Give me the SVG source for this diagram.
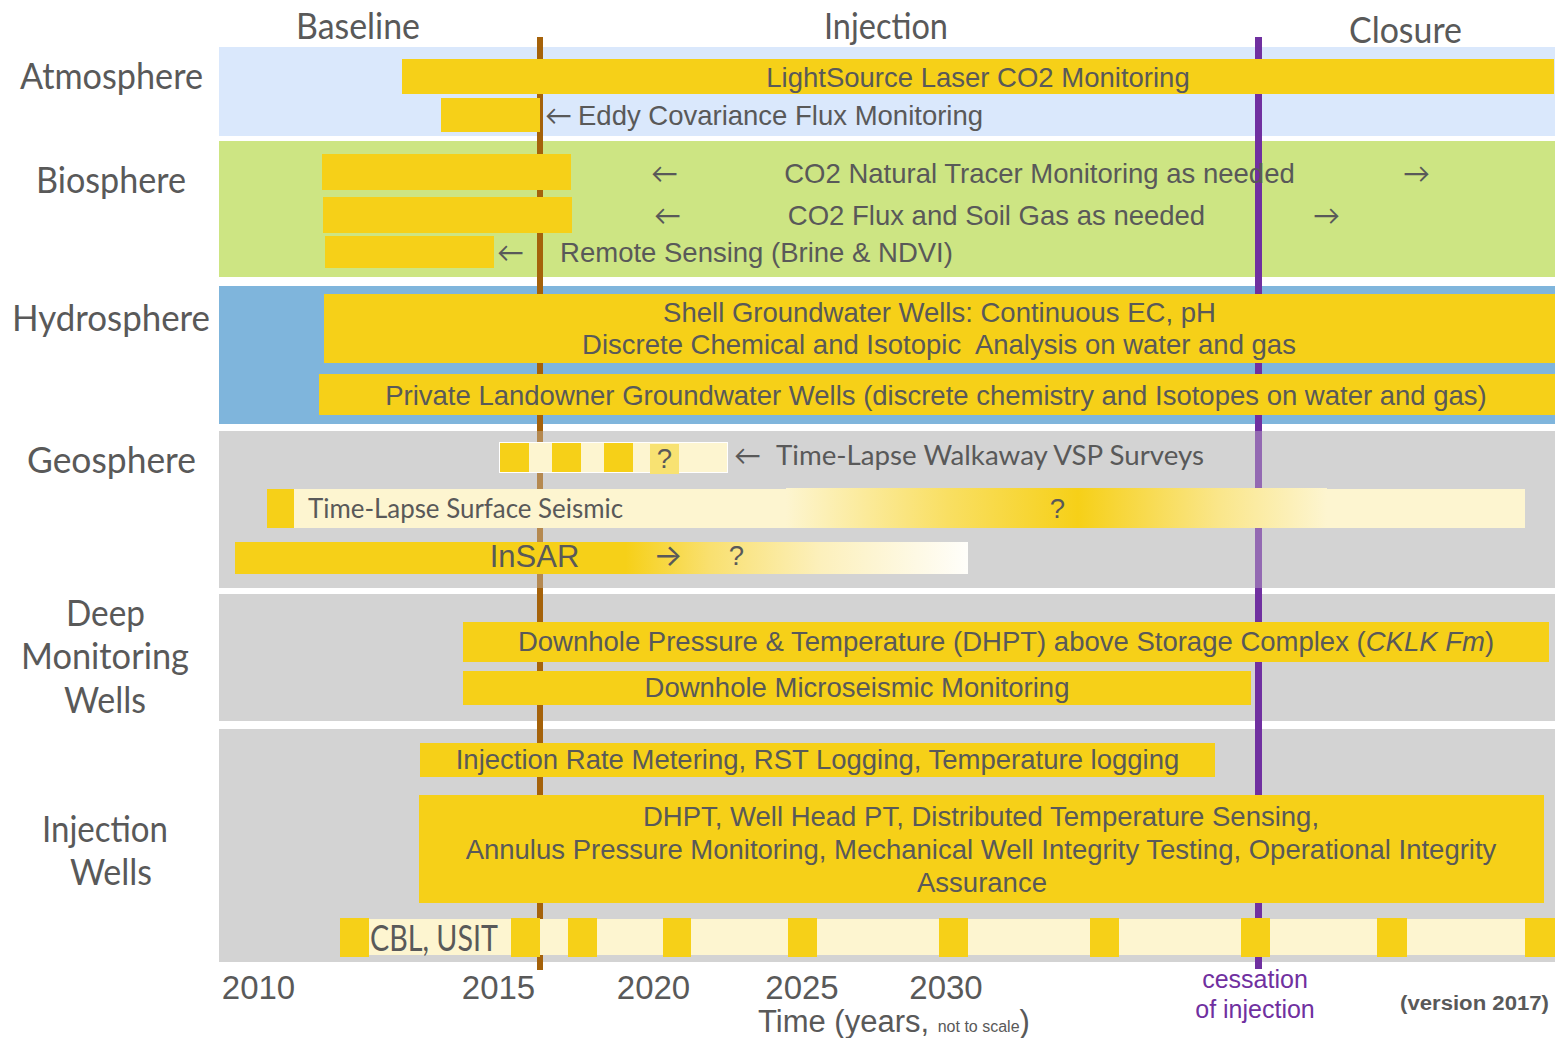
<svg xmlns="http://www.w3.org/2000/svg" width="1557" height="1038" viewBox="0 0 1557 1038">
<defs>
<linearGradient id="gSeis" x1="0" x2="1" y1="0" y2="0">
<stop offset="0" stop-color="#fdf5d0"/>
<stop offset="0.3" stop-color="#f9df62"/>
<stop offset="0.54" stop-color="#f6d018"/>
<stop offset="0.8" stop-color="#fae68a"/>
<stop offset="1" stop-color="#fdf5d0"/>
</linearGradient>
<linearGradient id="gInsar" x1="0" x2="1" y1="0" y2="0">
<stop offset="0" stop-color="#f6d018"/>
<stop offset="0.07" stop-color="#f6d018"/>
<stop offset="0.3" stop-color="#f9e070"/>
<stop offset="0.6" stop-color="#fcf0bc"/>
<stop offset="1" stop-color="#fffefa"/>
</linearGradient>
<style>
.y{fill:#f6d018}
.lt{fill:#fdf5d0}
.t{font-family:"Liberation Sans",Arial,sans-serif;font-size:27.5px;fill:#595959}
.f{font-family:Lato,"Liberation Sans",sans-serif;fill:#595959}
.lab{font-size:37px}
.fs{font-size:27px}
.ar{font-family:Lato,"DejaVu Sans",sans-serif;font-size:27px;fill:#595959}
.m{text-anchor:middle}
.yr{font-family:"Liberation Sans",Arial,sans-serif;font-size:33px;fill:#595959;text-anchor:middle}
.pu{font-family:"Liberation Sans",Arial,sans-serif;font-size:25px;fill:#7030a0;text-anchor:middle}
</style>
</defs>
<rect x="0" y="0" width="1557" height="1038" fill="#ffffff"/>

<g id="lanes">
<rect x="219" y="47" width="1336" height="89" fill="#dae8fc"/>
<rect x="219" y="141" width="1336" height="136" fill="#cde583"/>
<rect x="219" y="286" width="1336" height="138" fill="#7fb5dc"/>
<rect x="219" y="431" width="1336" height="157" fill="#d3d3d3"/>
<rect x="219" y="594" width="1336" height="127" fill="#d3d3d3"/>
<rect x="219" y="729" width="1336" height="233" fill="#d3d3d3"/>
</g>

<g id="connectors">
<rect x="537" y="37" width="6" height="933" fill="#a5620a"/>
<rect x="1255" y="37" width="7" height="932" fill="#7030a0"/>
<rect x="219" y="431" width="1336" height="157" fill="#d3d3d3" opacity="0.35"/>
</g>

<g id="phases">
<text class="f lab" x="296" y="39" textLength="124" lengthAdjust="spacingAndGlyphs">Baseline</text>
<text class="f lab" x="824" y="39" textLength="124" lengthAdjust="spacingAndGlyphs">Injection</text>
<text class="f lab" x="1349" y="43" textLength="113" lengthAdjust="spacingAndGlyphs">Closure</text>
</g>

<g id="atmosphere">
<text class="f lab" x="20" y="89" textLength="183" lengthAdjust="spacingAndGlyphs">Atmosphere</text>
<rect class="y" x="402" y="59" width="1152" height="35"/>
<text class="t m" x="978" y="87">LightSource Laser CO2 Monitoring</text>
<rect class="y" x="441" y="98" width="99" height="34"/>
<text class="ar" x="545" y="125">←</text>
<text class="t" x="578" y="125">Eddy Covariance Flux Monitoring</text>
</g>

<g id="biosphere">
<text class="f lab" x="36" y="193" textLength="150" lengthAdjust="spacingAndGlyphs">Biosphere</text>
<rect class="y" x="322" y="154" width="249" height="36"/>
<rect class="y" x="323" y="197" width="249" height="36"/>
<rect class="y" x="325" y="236" width="169" height="32"/>
<text class="ar" x="651" y="183">←</text>
<text class="t m" x="1039.5" y="183">CO2 Natural Tracer Monitoring as needed</text>
<text class="ar" x="1403" y="183">→</text>
<text class="ar" x="654" y="225">←</text>
<text class="t m" x="996.5" y="225">CO2 Flux and Soil Gas as needed</text>
<text class="ar" x="1313" y="225">→</text>
<text class="ar" x="497" y="262">←</text>
<text class="t m" x="756.5" y="262">Remote Sensing (Brine &amp; NDVI)</text>
</g>

<g id="hydrosphere">
<text class="f lab" x="12" y="331" textLength="198" lengthAdjust="spacingAndGlyphs">Hydrosphere</text>
<rect class="y" x="324" y="294" width="1231" height="69"/>
<text class="t m" x="939.5" y="322">Shell Groundwater Wells: Continuous EC, pH</text>
<text class="t m" x="939" y="354" xml:space="preserve">Discrete Chemical and Isotopic  Analysis on water and gas</text>
<rect class="y" x="319" y="374" width="1236" height="41"/>
<text class="t m" x="936" y="405">Private Landowner Groundwater Wells (discrete chemistry and Isotopes on water and gas)</text>
</g>

<g id="geosphere">
<text class="f lab" x="27" y="473" textLength="169" lengthAdjust="spacingAndGlyphs">Geosphere</text>
<rect class="lt" x="499.5" y="442.5" width="228" height="30" stroke="#ffffff" stroke-width="1"/>
<rect class="y" x="500" y="443" width="29" height="29"/>
<rect class="y" x="552" y="443" width="29" height="29"/>
<rect class="y" x="604" y="443" width="29" height="29"/>
<rect x="650" y="444" width="29" height="30" fill="#f8e272"/>
<text class="t m" x="664.5" y="468">?</text>
<text class="ar" x="734" y="465">←</text>
<text class="f fs" x="776" y="465" textLength="428" lengthAdjust="spacingAndGlyphs">Time-Lapse Walkaway VSP Surveys</text>
<rect class="y" x="267" y="489" width="27" height="39"/>
<rect class="lt" x="294" y="489" width="492" height="39"/>
<rect x="786" y="488" width="541" height="40" fill="url(#gSeis)"/>
<rect class="lt" x="1327" y="489" width="198" height="39"/>
<text class="f fs" x="308" y="518" textLength="315" lengthAdjust="spacingAndGlyphs">Time-Lapse Surface Seismic</text>
<text class="t m" x="1057.5" y="518">?</text>
<rect class="y" x="235" y="542" width="366" height="32"/>
<rect x="600" y="542" width="368" height="32" fill="url(#gInsar)"/>
<text class="t m" x="534.5" y="567" style="font-size:31px">InSAR</text>
<text class="m" x="668" y="566" style="font-family:Inter,Lato,sans-serif;font-size:31px;fill:#595959">→</text>
<text class="t m" x="736.5" y="565">?</text>
</g>

<g id="deep-monitoring-wells">
<text class="f lab m" x="105.5" y="626" textLength="79" lengthAdjust="spacingAndGlyphs">Deep</text>
<text class="f lab m" x="105" y="669" textLength="168" lengthAdjust="spacingAndGlyphs">Monitoring</text>
<text class="f lab m" x="105" y="713" textLength="82" lengthAdjust="spacingAndGlyphs">Wells</text>
<rect class="y" x="463" y="622" width="1086" height="40"/>
<text class="t m" x="1006" y="651">Downhole Pressure &amp; Temperature (DHPT) above Storage Complex (<tspan font-style="italic">CKLK Fm</tspan>)</text>
<rect class="y" x="463" y="671" width="788" height="34"/>
<text class="t m" x="857" y="697">Downhole Microseismic Monitoring</text>
</g>

<g id="injection-wells">
<text class="f lab m" x="105" y="842" textLength="126" lengthAdjust="spacingAndGlyphs">Injection</text>
<text class="f lab m" x="111" y="885" textLength="82" lengthAdjust="spacingAndGlyphs">Wells</text>
<rect class="y" x="420" y="743" width="795" height="34"/>
<text class="t m" x="817.5" y="769">Injection Rate Metering, RST Logging, Temperature logging</text>
<rect class="y" x="419" y="795" width="1125" height="108"/>
<text class="t m" x="981" y="826">DHPT, Well Head PT, Distributed Temperature Sensing,</text>
<text class="t m" x="981" y="859">Annulus Pressure Monitoring, Mechanical Well Integrity Testing, Operational Integrity</text>
<text class="t m" x="982" y="892">Assurance</text>
<rect class="lt" x="369" y="919" width="1186" height="36"/>
<rect class="y" x="340" y="918" width="29" height="39"/>
<rect class="y" x="511" y="918" width="29" height="39"/>
<rect class="y" x="568" y="918" width="29" height="39"/>
<rect class="y" x="663" y="918" width="28" height="39"/>
<rect class="y" x="788" y="918" width="29" height="39"/>
<rect class="y" x="939" y="918" width="29" height="39"/>
<rect class="y" x="1090" y="918" width="29" height="39"/>
<rect class="y" x="1241" y="918" width="29" height="39"/>
<rect class="y" x="1377" y="918" width="30" height="39"/>
<rect class="y" x="1525" y="918" width="30" height="39"/>
<text class="f" x="370" y="951" style="font-size:36px" textLength="128" lengthAdjust="spacingAndGlyphs">CBL, USIT</text>
</g>

<g id="axis">
<text class="yr" x="258.5" y="999">2010</text>
<text class="yr" x="498.5" y="999">2015</text>
<text class="yr" x="653.5" y="999">2020</text>
<text class="yr" x="802" y="999">2025</text>
<text class="yr" x="946" y="999">2030</text>
<text x="758" y="1032" style="font-family:'Liberation Sans',Arial,sans-serif;font-size:31px;fill:#595959" xml:space="preserve">Time (years, <tspan style="font-size:16px">not to scale</tspan>)</text>
<text class="pu" x="1255" y="988">cessation</text>
<text class="pu" x="1255" y="1018">of injection</text>
<text x="1400" y="1010" style="font-family:'Liberation Sans',Arial,sans-serif;font-size:20px;font-weight:bold;fill:#595959" textLength="149" lengthAdjust="spacingAndGlyphs">(version 2017)</text>
</g>
</svg>
